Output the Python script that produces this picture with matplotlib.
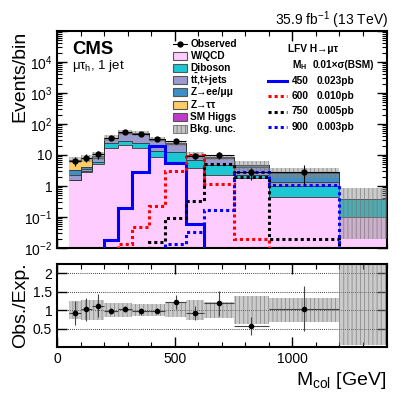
import numpy as np
import matplotlib
matplotlib.use("Agg")
import matplotlib.pyplot as plt
from matplotlib.patches import Rectangle
from matplotlib.lines import Line2D
from matplotlib.ticker import FixedLocator, LogLocator, NullFormatter, MultipleLocator

plt.rcParams['font.family'] = ['Liberation Sans', 'DejaVu Sans']
plt.rcParams['mathtext.fontset'] = 'custom'
plt.rcParams['mathtext.rm'] = 'Liberation Sans'
plt.rcParams['mathtext.it'] = 'Liberation Sans:italic'
plt.rcParams['mathtext.bf'] = 'Liberation Sans:bold'
plt.rcParams['hatch.linewidth'] = 0.6

# ---------------- data ----------------
edges = [50, 100, 150, 200, 260, 320, 390, 460, 550, 625, 750, 900, 1200, 1400]
wqcd    = [1.56, 2.9, 5.1, 17.2, 21.0, 17.0, 8.8, 5.8, 3.7, 2.27, 1.8, 0.45, 0.10]
diboson = [0.05, 0.2, 1.0, 7.8, 8.0, 6.8, 4.7, 7.0, 3.2, 2.5, 0.5, 0.55, 0.27]
ttbar   = [0.7, 0.5, 2.0, 10.0, 22.8, 25.2, 18.0, 10.5, 2.8, 3.0, 1.8, 0.35, 0.0]
zll     = [1.0, 0.6, 1.0, 0.5, 0.6, 0.5, 0.6, 0.4, 0.2, 0.5, 0.5, 1.35, 0.0]
ztt     = [3.7, 3.8, 0.4, 0.4, 0.4, 0.3, 0.4, 0.2, 0.1, 0.15, 0.15, 0.07, 0.0]
smh     = [0.1, 0.1, 0.1, 0.1, 0.2, 0.2, 0.2, 0.1, 0.05, 0.05, 0.05, 0.03, 0.0]
bkg_unc_up = [1.78, 2.27, 2.69, 6.8, 9.5, 8.5, 5.6, 4.6, 2.7, 1.8, 1.82, 0.92, 0.48]
bkg_unc_dn = [1.78, 2.27, 2.69, 6.8, 9.5, 8.5, 5.6, 4.6, 2.7, 1.8, 1.82, 0.92, 0.35]

observed     = [6.6, 8.3, 10.8, 35, 55, 48.5, 32, 29, 9.3, 10, 2.76, 2.9]
observed_err = [2.3, 2.5, 3.1, 3.2, 4.2, 5.0, 2.3, 4.6, 2.0, 2.8, 1.15, 1.7]

sig450 = [0, 0, 0, 0.018, 0.19, 2.77, 19.9, 5.4, 0.058, 0, 0, 0, 0]
sig600 = [0, 0, 0, 0, 0.0135, 0.047, 0.23, 3.1, 10.0, 1.2, 0.019, 0, 0]
sig750 = [0, 0, 0, 0, 0, 0, 0.016, 0.09, 0.34, 5.2, 2.0, 0.02, 0]
sig900 = [0, 0, 0, 0, 0, 0, 0, 0.013, 0.032, 0.17, 2.9, 1.1, 0]

bkg_names = ["W/QCD", "Diboson", r"$\mathbf{t\bar{t}}$,t+jets", "Z→ee/μμ", "Z→ττ", "SM Higgs"]
bkg_colors = ["#ffccff", "#1cc6d2", "#9b9bcf", "#3f8fc4", "#ffcc66", "#c03cc8"]
sig_masses = ["450", "600", "750", "900"]
sig_xsec = ["0.023pb", "0.010pb", "0.005pb", "0.003pb"]

# ---------------- figure ----------------
W, H = 407, 395
fig = plt.figure(figsize=(W / 100, H / 100), dpi=100)
L, R = 57, 386.5
ax = fig.add_axes([L / W, 1 - 248 / H, (R - L) / W, (248 - 31) / H])
ax2 = fig.add_axes([L / W, 1 - 347 / H, (R - L) / W, (347 - 264) / H])

e = np.array(edges, float)
centers = 0.5 * (e[1:] + e[:-1])
halfw = 0.5 * (e[1:] - e[:-1])
floor = 1e-4

comps = [wqcd, diboson, ttbar, zll, ztt, smh]
cum = np.zeros(len(wqcd))
for vals, col in zip(comps, bkg_colors):
    top = cum + np.array(vals)
    ax.stairs(np.maximum(top, floor), e, baseline=np.maximum(cum, floor), fill=True,
              facecolor=col, edgecolor=col, lw=0, zorder=2)
    ax.stairs(np.maximum(top, floor), e, baseline=None, color="#333333", lw=0.6, zorder=2.5)
    cum = top
total = cum

up = np.array(bkg_unc_up)
dn = np.array(bkg_unc_dn)
ax.stairs(total + up, e, baseline=np.maximum(total - dn, floor), fill=True,
          facecolor=(0.55, 0.55, 0.55, 0.45), edgecolor=(0.45, 0.45, 0.45, 0.7),
          hatch="||||", lw=0, zorder=3)

sig_styles = [("#0000ff", "-"), ("#ff0000", (0, (1, 1))), ("#000000", (0, (1, 1))), ("#0000ff", (0, (1, 1)))]
for vals, (col, ls) in zip([sig450, sig600, sig750, sig900], sig_styles):
    ax.stairs(np.maximum(np.array(vals, float), floor), e, baseline=None,
              color=col, ls=ls, lw=2.2, zorder=4)

nobs = len(observed)
ax.errorbar(centers[:nobs], observed, yerr=observed_err, xerr=halfw[:nobs], fmt="o",
            color="black", ms=3.5, lw=0.8, capsize=0, zorder=5)

ax.set_yscale("log")
ax.set_ylim(1e-2, 1e5)
ax.set_xlim(0, 1400)
ax.yaxis.set_major_locator(FixedLocator([1e-2, 1e-1, 1, 10, 1e2, 1e3, 1e4, 1e5]))
ylabels = {1e-2: r"$10^{-2}$", 1e-1: r"$10^{-1}$", 1: "1", 10: "10",
           1e2: r"$10^{2}$", 1e3: r"$10^{3}$", 1e4: r"$10^{4}$", 1e5: ""}
ax.set_yticklabels([ylabels[v] for v in [1e-2, 1e-1, 1, 10, 1e2, 1e3, 1e4, 1e5]])
ax.yaxis.set_minor_locator(LogLocator(base=10, subs=np.arange(2, 10), numticks=20))
ax.yaxis.set_minor_formatter(NullFormatter())
ax.xaxis.set_major_locator(MultipleLocator(500))
ax.xaxis.set_minor_locator(MultipleLocator(100))
ax.tick_params(labelbottom=False)
ax.set_ylabel("Events/bin", fontsize=14, loc="top")
ax.yaxis.set_label_coords((28 - L) / (R - L), 1.0)

# ratio
ratio = np.array(observed) / total[:nobs]
ratio_err = np.array(observed_err) / total[:nobs]
ax2.stairs(1 + up / total, e, baseline=1 - dn / total, fill=True,
           facecolor=(0.55, 0.55, 0.55, 0.45), edgecolor=(0.45, 0.45, 0.45, 0.7),
           hatch="||||", lw=0, zorder=2)
for yv in [0.5, 1.0, 1.5, 2.0]:
    ax2.axhline(yv, color="black", ls=(0, (1, 1.5)), lw=0.6, zorder=1)
ax2.errorbar(centers[:nobs], ratio, yerr=ratio_err, xerr=halfw[:nobs], fmt="o",
             color="black", ecolor="#444444", ms=3, lw=0.8, capsize=0, zorder=5)
ax2.set_xlim(0, 1400)
ax2.set_ylim(0, 2.25)
ax2.yaxis.set_major_locator(FixedLocator([0.5, 1, 1.5, 2]))
ax2.set_yticklabels(["0.5", "1", "1.5", "2"])
ax2.xaxis.set_major_locator(MultipleLocator(500))
ax2.xaxis.set_minor_locator(MultipleLocator(100))
ax2.set_ylabel("Obs./Exp.", fontsize=14)
ax2.yaxis.set_label_coords((29 - L) / (R - L), 0.5)
ax2.set_xlabel(r"M$_{\rm col}$ [GeV]", fontsize=14, loc="right", labelpad=3)

for a in (ax, ax2):
    a.tick_params(which="both", direction="in", top=True, right=True, labelsize=10)
    a.tick_params(which="major", length=7, width=1.0)
    a.tick_params(which="minor", length=3.5, width=0.8)
    for s in a.spines.values():
        s.set_linewidth(1.5)

# texts
def fx(x): return x / W
def fy(y): return 1 - y / H

fig.text(fx(72), fy(50), "CMS", fontsize=13.3, fontweight="bold", va="center", ha="left")
fig.text(fx(72), fy(66), r"μτ$_{\rm h}$, 1 jet", fontsize=9.5, va="center", ha="left")
fig.text(fx(388), fy(20), r"35.9 fb$^{-1}$ (13 TeV)", fontsize=10, va="center", ha="right")

# left legend
lg_rows = [44 + 12.1 * i for i in range(8)]
fs = 7.3
fig.add_artist(Line2D([fx(173), fx(187)], [fy(lg_rows[0])] * 2, color="black", lw=0.8,
                      transform=fig.transFigure))
fig.add_artist(Line2D([fx(180)], [fy(lg_rows[0])], color="black", marker="o", ms=3.5,
                      transform=fig.transFigure))
fig.text(fx(190.5), fy(lg_rows[0]), "Observed", fontsize=fs, fontweight="bold", va="center")
for i, (name, col) in enumerate(zip(bkg_names, bkg_colors)):
    yy = lg_rows[i + 1]
    fig.add_artist(Rectangle((fx(173), fy(yy + 4)), 14 / W, 8 / H, facecolor=col,
                             edgecolor="#555555", lw=0.8, transform=fig.transFigure))
    fig.text(fx(190.5), fy(yy), name, fontsize=fs, fontweight="bold", va="center")
yy = lg_rows[7]
fig.add_artist(Rectangle((fx(173), fy(yy + 4)), 14 / W, 8 / H, facecolor=(0.55, 0.55, 0.55, 0.5),
                         edgecolor=(0.4, 0.4, 0.4, 0.8), hatch="||||", lw=0.8,
                         transform=fig.transFigure))
fig.text(fx(190.5), fy(yy), "Bkg. unc.", fontsize=fs, fontweight="bold", va="center")

# right legend
rg_rows = [49.5 + 15.5 * i for i in range(6)]
fig.text(fx(288), fy(rg_rows[0]), "LFV H→μτ", fontsize=fs, fontweight="bold", va="center")
fig.text(fx(291.5), fy(rg_rows[1]), r"M$_{\mathbf{H}}$", fontsize=fs, fontweight="bold", va="center")
fig.text(fx(313), fy(rg_rows[1]), "0.01×σ(BSM)", fontsize=fs, fontweight="bold", va="center")
for i, ((col, ls), m, xs) in enumerate(zip(sig_styles, sig_masses, sig_xsec)):
    yy = rg_rows[i + 2]
    fig.add_artist(Line2D([fx(268), fx(287)], [fy(yy)] * 2, color=col, ls=ls, lw=2.2,
                          transform=fig.transFigure))
    fig.text(fx(291.5), fy(yy), m, fontsize=fs, fontweight="bold", va="center")
    fig.text(fx(316.5), fy(yy), xs, fontsize=fs, fontweight="bold", va="center")

fig.savefig("out.png", dpi=100)
